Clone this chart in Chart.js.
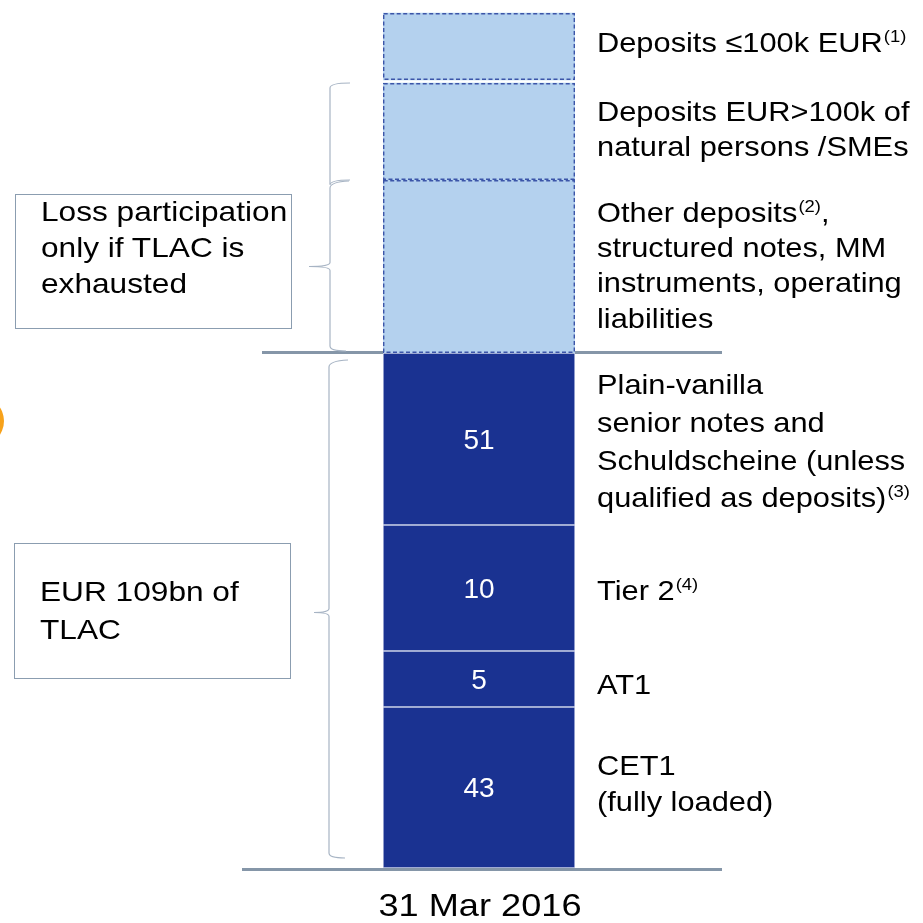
<!DOCTYPE html>
<html>
<head>
<meta charset="utf-8">
<script src="https://cdn.jsdelivr.net/npm/chart.js@4.4.0/dist/chart.umd.min.js"></script>
<style>
body{margin:0;background:#fff;}
#wrap{position:relative;width:923px;height:923px;overflow:hidden;font-family:"Liberation Sans",Arial,sans-serif;color:#000;}
#wrap canvas{position:absolute;left:0;top:0;}
.txt{position:absolute;white-space:nowrap;line-height:1;transform-origin:0 0;}
.txt sup{font-size:0.6em;vertical-align:0;position:relative;top:-0.62em;margin-left:1px;}
.box{position:absolute;border:1px solid #8b9db0;box-sizing:border-box;}
</style>
</head>
<body>
<div id="wrap"><canvas id="c" width="923" height="923"></canvas></div>
<script>
// data (EUR bn) - bottom to top
var category = ['31 Mar 2016']
var tlacNames = ['CET1', 'AT1', 'Tier 2', 'Senior notes']
var tlacAmounts = [43, 5, 10, 51]
// segment heights as drawn in the picture (the bar is not to scale)
var tlacHeights = [161, 56, 126, 172]
var depositNames = ['Other deposits', 'Deposits EUR>100k', 'gap', 'Deposits <=100k EUR']
var depositHeights = [173, 97, 3, 67]

// text
var rightLabels = [
    ['(fully loaded)', 'CET1'],
    ['AT1'],
    ['Tier 2<sup>(4)</sup>'],
    ['qualified as deposits)<sup>(3)</sup>', 'Schuldscheine (unless', 'senior notes and', 'Plain-vanilla'],
    ['liabilities', 'instruments, operating', 'structured notes, MM', 'Other deposits<sup>(2)</sup>,'],
    ['natural persons /SMEs', 'Deposits EUR&gt;100k of'],
    ['Deposits ≤100k EUR<sup>(1)</sup>']
]
var rightBaselines = [[812, 776], [695], [601], [508, 471, 433, 395], [329, 293, 258, 223], [157, 122], [53]]
var boxTexts = [['Loss participation', 'only if TLAC is', 'exhausted'], ['EUR 109bn of', 'TLAC']]

var darkBlue = '#1a3291'
var lightBlue = '#b4d1ee'
var gridGrey = '#8596a8'
var braceGrey = '#a7b4c4'

function addLine(x, base, html, size, sx) { //put one text line with its baseline at base
    var d = document.createElement('div')
    d.className = 'txt'
    d.style.left = x + 'px'
    d.style.top = (base - 0.8465 * size) + 'px'
    d.style.fontSize = size + 'px'
    d.style.transform = 'scaleX(' + sx + ')'
    d.innerHTML = html
    document.getElementById('wrap').appendChild(d)
    return d
}
function addBox(x, y, w, h) {
    var b = document.createElement('div')
    b.className = 'box'
    b.style.left = x + 'px'; b.style.top = y + 'px'
    b.style.width = w + 'px'; b.style.height = h + 'px'
    document.getElementById('wrap').appendChild(b)
}

var datasets = []
for (var i = 0; i < tlacHeights.length; i++) {
    datasets.push({
        label: tlacNames[i], data: [tlacHeights[i]], amount: tlacAmounts[i],
        backgroundColor: darkBlue, borderColor: '#cdd3ea', borderWidth: 1, borderSkipped: false
    })
}
for (var i = 0; i < depositHeights.length; i++) {
    var gap = depositNames[i] == 'gap'
    datasets.push({
        label: depositNames[i], data: [depositHeights[i]], dashed: !gap,
        backgroundColor: gap ? 'rgba(0,0,0,0)' : lightBlue, borderWidth: 0
    })
}

function brace(ctx, x, y0, y1, tip, w) {
    ctx.beginPath()
    ctx.moveTo(x + 19, y0 - 2)
    ctx.quadraticCurveTo(x, y0 - 1, x, y0 + 5)
    ctx.lineTo(x, tip - 4)
    ctx.quadraticCurveTo(x, tip, x - w, tip)
    ctx.quadraticCurveTo(x, tip, x, tip + 4)
    ctx.lineTo(x, y1 - 5)
    ctx.quadraticCurveTo(x, y1, x + 16, y1)
    ctx.stroke()
}

var overlay = {
    id: 'overlay',
    beforeDatasetsDraw: function (chart) {
        var ctx = chart.ctx, y = chart.scales.y
        var tlacTop = y.getPixelForValue(tlacHeights.reduce(function (a, b) { return a + b }, 0))
        var base = y.getPixelForValue(0)
        ctx.save()
        ctx.strokeStyle = gridGrey
        ctx.lineWidth = 3
        ctx.beginPath()
        ctx.moveTo(262, tlacTop - 0.5); ctx.lineTo(722, tlacTop - 0.5)
        ctx.moveTo(242, base + 1.5); ctx.lineTo(722, base + 1.5)
        ctx.stroke()
        // orange marker cut by the left edge
        ctx.fillStyle = '#f7a21b'
        ctx.beginPath(); ctx.arc(-21, 421, 25, 0, Math.PI * 2); ctx.fill()
        // braces
        ctx.lineWidth = 1.2
        ctx.strokeStyle = braceGrey
        var otherTop = chart.getDatasetMeta(4).data[0].y
        var bigTop = chart.getDatasetMeta(5).data[0].y
        ctx.beginPath()
        ctx.moveTo(350, bigTop); ctx.quadraticCurveTo(330, bigTop, 330, bigTop + 5); ctx.lineTo(330, otherTop + 4)
        ctx.stroke()
        ctx.beginPath()
        ctx.moveTo(350, otherTop); ctx.quadraticCurveTo(330, otherTop, 330, otherTop + 5)
        ctx.stroke()
        brace(ctx, 330, otherTop + 3, tlacTop - 2, (otherTop + tlacTop) / 2, 21)
        brace(ctx, 329, tlacTop + 9, base - 10, (tlacTop + base) / 2 + 2, 15)
        ctx.restore()
    },
    afterDatasetsDraw: function (chart) {
        var ctx = chart.ctx
        ctx.save()
        chart.data.datasets.forEach(function (ds, i) {
            var bar = chart.getDatasetMeta(i).data[0]
            var left = bar.x - bar.width / 2
            if (ds.dashed) {
                ctx.strokeStyle = '#3b55a8'
                ctx.lineWidth = 1.4
                ctx.setLineDash([4, 2.5])
                ctx.strokeRect(left + 0.7, bar.y + 0.7, bar.width - 1.4, bar.base - bar.y - 1.4)
                ctx.setLineDash([])
            }
            if (ds.amount !== undefined) {
                ctx.fillStyle = '#ffffff'
                ctx.font = '28px "Liberation Sans", Arial, sans-serif'
                ctx.textAlign = 'center'
                ctx.textBaseline = 'middle'
                ctx.fillText(ds.amount, bar.x, (bar.y + bar.base) / 2 + 2)
            }
        })
        ctx.restore()
    }
}

var myChart = new Chart(document.getElementById('c'), {
    type: 'bar',
    data: { labels: category, datasets: datasets },
    options: {
        responsive: false,
        animation: false,
        layout: { padding: { left: 383, right: 348, top: 0, bottom: 55 } },
        datasets: { bar: { barPercentage: 1, categoryPercentage: 1 } },
        plugins: { legend: { display: false }, tooltip: { enabled: false } },
        scales: {
            x: { stacked: true, display: false },
            y: { stacked: true, display: false, min: 0, max: 868 }
        }
    },
    plugins: [overlay]
})

//text around the bar
rightLabels.forEach(function (lines, i) {
    lines.forEach(function (t, j) { addLine(597, rightBaselines[i][j], t, 28, 1.1) })
})
addBox(15, 194, 277, 135)
addBox(14, 543, 277, 136)
boxTexts[0].forEach(function (t, j) { addLine(41, 222 + 36 * j, t, 28, 1.13) })
boxTexts[1].forEach(function (t, j) { addLine(40, 602 + 38 * j, t, 28, 1.13) })
var bottom = addLine(280, 916, category[0], 32, 1.13)
bottom.style.width = '400px'
bottom.style.textAlign = 'center'
bottom.style.transformOrigin = '50% 0'
</script>
</body>
</html>
